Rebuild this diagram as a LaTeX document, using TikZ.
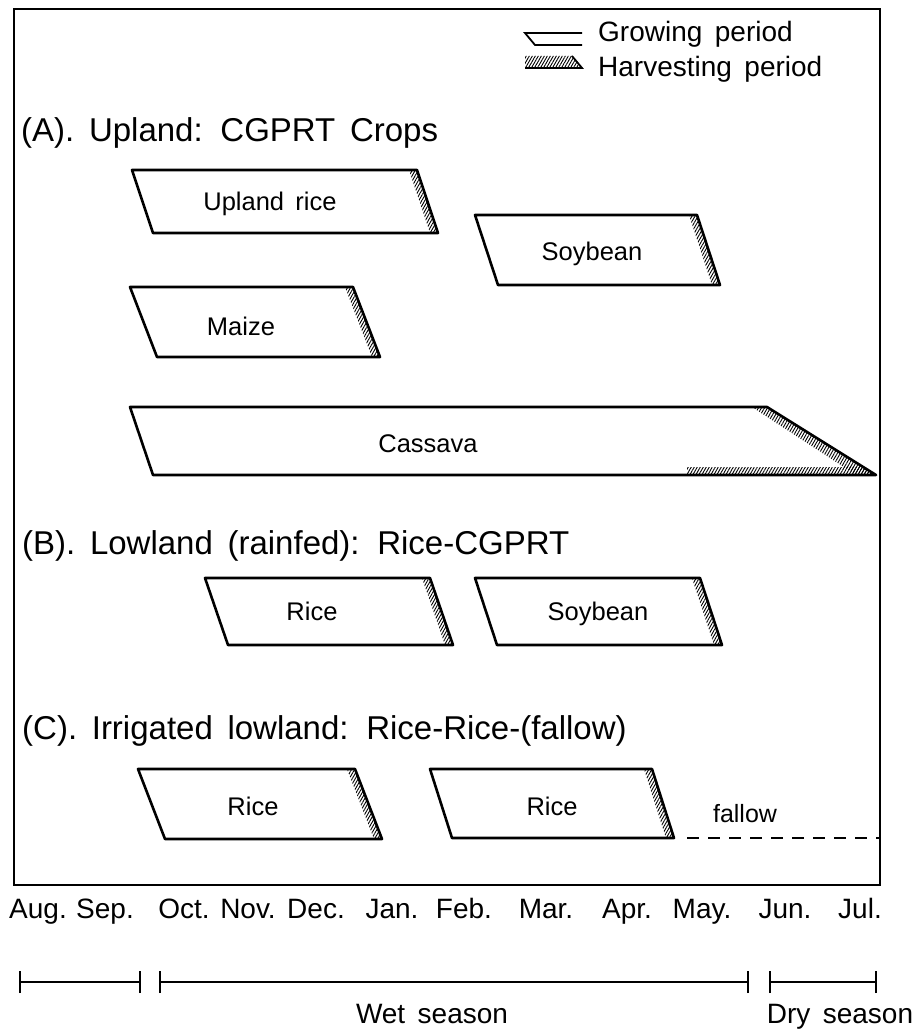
\documentclass[tikz,border=0pt]{standalone}
\usepackage{fontspec}
\setmainfont[WordSpace=1.6]{Liberation Sans}
\usetikzlibrary{patterns.meta}
\tikzset{
  frame/.style={line width=2.6pt},
  crop/.style={line width=2.6pt, line join=round},
  hatch/.style={pattern={Lines[angle=60,distance=2.6pt,line width=0.9pt]}},
  seclabel/.style={font=\fontsize{33}{38}\selectfont, anchor=base west, inner sep=0pt},
  croplabel/.style={font=\fontsize{25.5}{30}\selectfont, anchor=base, inner sep=0pt},
  legendlabel/.style={font=\fontsize{28}{32}\selectfont, anchor=base west, inner sep=0pt},
  monthlabel/.style={font=\fontsize{28}{32}\selectfont, anchor=base, inner sep=0pt},
  tick/.style={line width=2.2pt},
  bar/.style={line width=2.4pt},
}
% #1 name, #2 x left (top), #3 x right (top), #4 y top, #5 y bottom, #6 slant, #7 label x, #8 label baseline y, #9 label
\newcommand\cropbar[9]{%
  \fill[hatch] (#3-8,#4) -- (#3,#4) -- (#3+#6,#5) -- (#3+#6-8,#5) -- cycle;
  \draw[crop] (#2,#4) -- (#3,#4) -- (#3+#6,#5) -- (#2+#6,#5) -- cycle;
  \node[croplabel] (#1) at (#7,#8) {#9};
}
\newcommand\seasonbar[4]{% #1 name, #2 x left, #3 x right, #4 y
  \coordinate (#1a) at (#2,#4);
  \coordinate (#1b) at (#3,#4);
  \draw[bar] (#1a) -- (#1b);
  \draw[tick] ([yshift=-11pt]#1a) -- ([yshift=11pt]#1a);
  \draw[tick] ([yshift=-11pt]#1b) -- ([yshift=11pt]#1b);
}
\begin{document}
\begin{tikzpicture}[x=1pt,y=-1pt]
\useasboundingbox (0,0) rectangle (916,1030);
\fill[white] (0,0) rectangle (916,1030);
% frame
\draw[frame] (14,9) rectangle (880,885);

% legend
\draw[line width=1.8pt] (582,33) -- (525,33) -- (535,45) -- (582,45);
\fill[hatch] (525,56) -- (572,56) -- (582,68) -- (525,68) -- cycle;
\draw[line width=1.8pt] (572,56) -- (582,68) -- (525,68);
\node[legendlabel] (leggrow) at (598,42) {Growing period};
\node[legendlabel] (legharv) at (598,77) {Harvesting period};

% section labels
\node[seclabel] (secA) at (21,141) {(A). Upland: CGPRT Crops};
\node[seclabel] (secB) at (22,554) {(B). Lowland (rainfed): Rice-CGPRT};
\node[seclabel] (secC) at (22,739) {(C). Irrigated lowland: Rice-Rice-(fallow)};

% (A)
\cropbar{uprice}{132}{417}{170}{233}{21}{270}{210}{Upland rice}
\cropbar{soyA}{475}{697}{215}{285}{23}{592}{260}{Soybean}
\cropbar{maize}{130}{353}{287}{357}{27}{241}{335}{Maize}

% Cassava
\fill[hatch] (752,407) -- (767,407) -- (876,475) -- (856,475) -- cycle;
\fill[hatch] (687,467) -- (863,467) -- (876,475) -- (687,475) -- cycle;
\draw[crop] (130,407) -- (767,407) -- (876,475) -- (153,475) -- cycle;
\node[croplabel] (cassava) at (428,452) {Cassava};

% (B)
\cropbar{riceB}{205}{430}{578}{645}{23}{312}{620}{Rice}
\cropbar{soyB}{475}{700}{578}{645}{22}{598}{620}{Soybean}

% (C)
\cropbar{riceC1}{138}{355}{769}{839}{27}{253}{815}{Rice}
\cropbar{riceC2}{430}{652}{769}{838}{22}{552}{815}{Rice}
\coordinate (fallowstart) at (687,838);
\coordinate (fallowend) at (880,838);
\draw[line width=1.8pt, dash pattern=on 12pt off 9pt] (fallowstart) -- (fallowend);
\node[croplabel, font=\fontsize{25}{30}\selectfont] (fallow) at (745,822) {fallow};

% months
\foreach \m/\x [count=\i] in {Aug./38, Sep./105, Oct./184, Nov./248, Dec./316, Jan./392, Feb./464, Mar./546, Apr./627, May./702, Jun./785, Jul./860}
  \node[monthlabel] (month\i) at (\x,918) {\m};

% seasons
\seasonbar{s1}{20}{140}{982}
\seasonbar{s2}{160}{748}{982}
\seasonbar{s3}{770}{876}{982}
\node[monthlabel] (wet) at (432,1023) {Wet season};
\node[monthlabel] (dry) at (840,1023) {Dry season};
\end{tikzpicture}
\end{document}
